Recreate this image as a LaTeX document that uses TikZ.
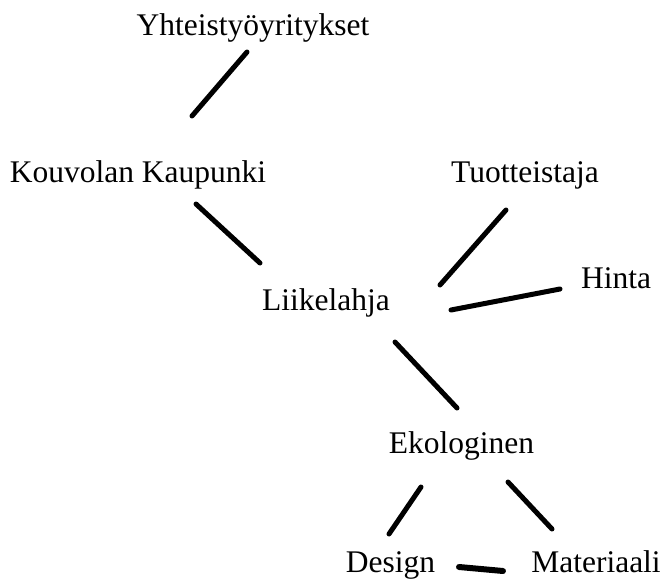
\documentclass[tikz,border=0pt]{standalone}
\usepackage{fontspec}
\setmainfont{Liberation Serif}
\begin{document}
\begin{tikzpicture}[x=1pt,y=-1pt,
  word/.style={inner sep=0pt,anchor=base,font=\fontsize{31.5}{37}\selectfont},
  link/.style={line width=5pt,line cap=round}]
 \useasboundingbox (0,0) rectangle (662,579);
 \node[word] (yht) at (253,35) {Yhteistyöyritykset};
 \node[word] (kou) at (138,182) {Kouvolan Kaupunki};
 \node[word] (tuo) at (525,182) {Tuotteistaja};
 \node[word] (hin) at (616,288) {Hinta};
 \node[word] (lii) at (326,310) {Liikelahja};
 \node[word] (eko) at (461.5,453) {Ekologinen};
 \node[word] (des) at (390.5,572) {Design};
 \node[word] (mat) at (596,572) {Materiaali};
 \coordinate (yht-a) at (247,52);  \coordinate (kou-a) at (192,116);
 \coordinate (kou-b) at (196,204); \coordinate (lii-a) at (260,263);
 \coordinate (tuo-a) at (506,210); \coordinate (lii-b) at (440,285);
 \coordinate (hin-a) at (560,289); \coordinate (lii-c) at (451,310);
 \coordinate (lii-d) at (395,342); \coordinate (eko-a) at (457,408);
 \coordinate (eko-b) at (421,487); \coordinate (des-a) at (389,534);
 \coordinate (eko-c) at (508,482); \coordinate (mat-a) at (552,529);
 \coordinate (des-b) at (459,567); \coordinate (mat-b) at (503,571);
 \draw[link] (yht-a)--(kou-a);
 \draw[link] (kou-b)--(lii-a);
 \draw[link] (tuo-a)--(lii-b);
 \draw[link] (hin-a)--(lii-c);
 \draw[link] (lii-d)--(eko-a);
 \draw[link] (eko-b)--(des-a);
 \draw[link] (eko-c)--(mat-a);
 \draw[link,line width=6pt] (des-b)--(mat-b);
\end{tikzpicture}
\end{document}
